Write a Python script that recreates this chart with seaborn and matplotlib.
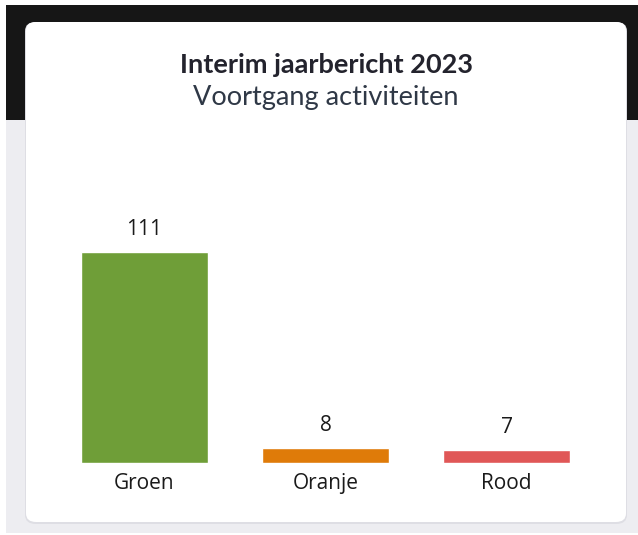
import matplotlib
matplotlib.use("Agg")
import matplotlib.pyplot as plt
from matplotlib.patches import FancyBboxPatch, Rectangle
import pandas as pd
import seaborn as sns

# data
categories = ["Groen", "Oranje", "Rood"]
counts = [111, 8, 7]
bar_colors = ["#6f9e38", "#df7b09", "#e05757"]

title = "Interim jaarbericht 2023"
subtitle = "Voortgang activiteiten"

sns.set_theme(style="white")
plt.rcParams["font.family"] = ["Open Sans", "DejaVu Sans"]

W, H = 638, 535
fig = plt.figure(figsize=(W / 100, H / 100), dpi=100)
fig.patch.set_facecolor("white")


def px_box(x0, y0, x1, y1):
    # pixel box (top-left origin) -> figure fraction [l, b, w, h]
    return [x0 / W, 1 - y1 / H, (x1 - x0) / W, (y1 - y0) / H]


# page background: dark header strip + light grey body
l, b, w, h = px_box(6, 120, 638, 533)
fig.add_artist(Rectangle((l, b), w, h, transform=fig.transFigure,
                         facecolor="#ededf1", edgecolor="none", zorder=0))
l, b, w, h = px_box(6, 5, 638, 120)
fig.add_artist(Rectangle((l, b), w, h, transform=fig.transFigure,
                         facecolor="#161616", edgecolor="none", zorder=0))

# card shadow + card
l, b, w, h = px_box(25, 22, 627, 524)
fig.add_artist(FancyBboxPatch((l, b), w, h, transform=fig.transFigure,
                              boxstyle="round,pad=0,rounding_size=0.017",
                              facecolor="#dedee4", edgecolor="none", zorder=1))
l, b, w, h = px_box(26, 22, 626, 522)
fig.add_artist(FancyBboxPatch((l, b), w, h, transform=fig.transFigure,
                              boxstyle="round,pad=0,rounding_size=0.016",
                              facecolor="white", edgecolor="none", zorder=2))

card_cx = 326 / W
fig.text(card_cx, 1 - 65 / H, title, ha="center", va="center",
         fontsize=19.5, fontweight="bold", family="Lato", color="#23232d",
         zorder=3)
fig.text(card_cx, 1 - 98 / H, subtitle, ha="center", va="center",
         fontsize=19.5, family="Lato", color="#2f3846", zorder=3)

# chart
ax = fig.add_axes(px_box(54, 200, 597, 463))
ax.set_zorder(3)
ax.patch.set_alpha(0)

df = pd.DataFrame({"category": categories, "count": counts})
sns.barplot(data=df, x="category", y="count", hue="category",
            palette=bar_colors, width=0.70, legend=False, ax=ax,
            saturation=1)

for cont in ax.containers:
    ax.bar_label(cont, padding=8.5, fontsize=15, color="#1a1a1a")

ax.set_xlim(-0.5, 2.5)
ax.set_ylim(0, 138.4)
ax.set_xlabel("")
ax.set_ylabel("")
ax.set_yticks([])
ax.tick_params(axis="x", length=0, pad=7, labelsize=15, labelcolor="#1a1a1a")
sns.despine(ax=ax, left=True, bottom=True)

fig.savefig("out.png", dpi=100)
